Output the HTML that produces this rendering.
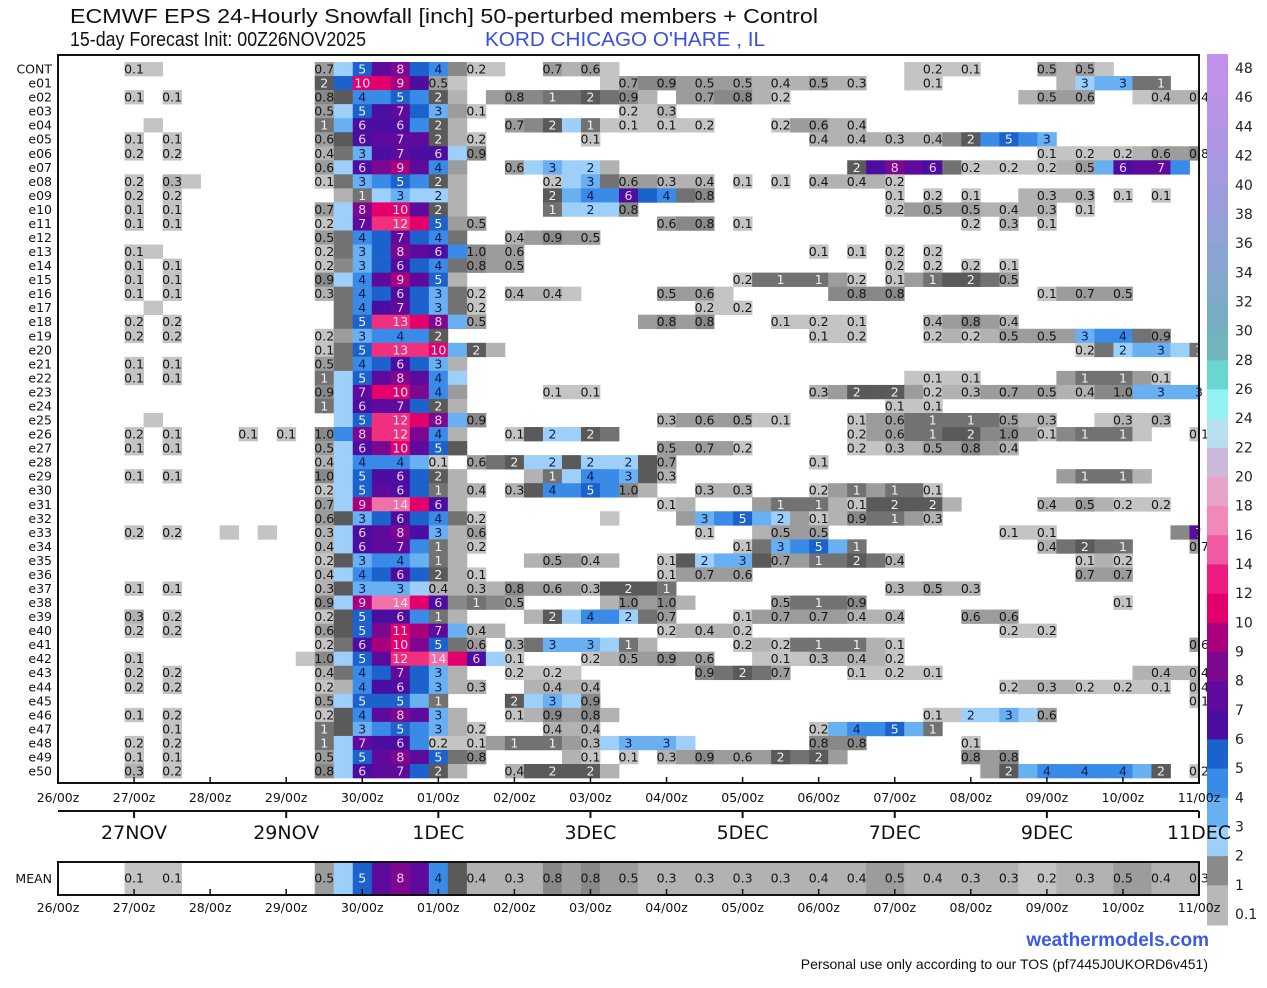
<!DOCTYPE html>
<html><head><meta charset="utf-8">
<style>
html,body{margin:0;padding:0;background:#fff;}
svg{display:block;font-family:"DejaVu Sans","Liberation Sans",sans-serif;}
</style></head>
<body>
<svg id="chart" width="1267" height="988" viewBox="0 0 1267 988" xmlns="http://www.w3.org/2000/svg">
<text x="70" y="23" font-family="Liberation Sans, sans-serif" font-size="20" textLength="748" lengthAdjust="spacingAndGlyphs" fill="#111">ECMWF EPS 24-Hourly Snowfall [inch]  50-perturbed members + Control</text>
<text x="70" y="46" font-family="Liberation Sans, sans-serif" font-size="20" textLength="296" lengthAdjust="spacingAndGlyphs" fill="#111">15-day Forecast Init: 00Z26NOV2025</text>
<text x="485" y="46" font-family="Liberation Sans, sans-serif" font-size="20" textLength="280" lengthAdjust="spacingAndGlyphs" fill="#3a4fe0">KORD CHICAGO O'HARE , IL</text>
<g id="cells"></g>
<g id="mean"></g>
<g id="cbar"></g>
<g id="axes"></g>
<text x="1209" y="946" text-anchor="end" font-family="Liberation Sans, sans-serif" font-size="19" font-weight="bold" fill="#3a5ae8">weathermodels.com</text>
<text x="1208" y="969" text-anchor="end" font-family="Liberation Sans, sans-serif" font-size="14" fill="#111">Personal use only according to our TOS (pf7445J0UKORD6v451)</text>
</svg>
<script>
const rowNames = ['CONT','e01','e02','e03','e04','e05','e06','e07','e08','e09','e10','e11','e12','e13','e14','e15','e16','e17','e18','e19','e20','e21','e22','e23','e24','e25','e26','e27','e28','e29','e30','e31','e32','e33','e34','e35','e36','e37','e38','e39','e40','e41','e42','e43','e44','e45','e46','e47','e48','e49','e50'];
const memberValues = [
"4:0.1 5:0.1 14:0.7 15:2.5 16:5 17:7 18:8 19:5 20:4 21:0.8 22:0.2 23:0.2 26:0.7 27:0.3 28:0.6 29:0.2 45:0.2 46:0.2 47:0.1 48:0.1 52:0.5 53:0.4 54:0.5 55:0.2",
"14:1.8 15:5 16:10 17:10 18:9 19:6 20:0.5 21:0.2 29:0.2 30:0.7 31:0.8 32:0.9 33:0.6 34:0.5 35:0.5 36:0.5 37:0.4 38:0.4 39:0.4 40:0.5 41:0.3 42:0.3 45:0.1 46:0.1 53:0.3 54:2.5 55:3 56:3 57:1.2 58:1.2",
"4:0.1 6:0.1 14:0.8 15:1.5 16:4 17:4.5 18:5 19:4 20:1.8 21:0.3 23:0.5 24:0.8 25:0.8 26:1.2 27:1.2 28:1.8 29:1.2 30:0.9 31:0.3 33:0.5 34:0.7 35:0.8 36:0.8 37:0.3 38:0.2 51:0.3 52:0.5 53:0.6 54:0.6 57:0.2 58:0.4 59:0.3 60:0.4",
"14:0.5 15:2.5 16:5 17:6.5 18:7 19:5 20:3 21:0.5 22:0.1 30:0.2 31:0.2 32:0.3",
"5:0.1 14:1.2 15:3 16:6 17:6.5 18:6 19:4.5 20:1.8 21:0.3 24:0.7 25:0.8 26:1.8 27:2.5 28:1.2 29:0.2 30:0.1 31:0.1 32:0.1 33:0.2 34:0.2 38:0.2 39:0.6 40:0.6 41:0.4 42:0.4",
"4:0.1 6:0.1 14:0.6 15:1.5 16:6 17:7 18:7 19:7 20:1.8 21:0.3 22:0.2 28:0.1 40:0.4 41:0.4 42:0.4 43:0.3 44:0.3 45:0.4 46:0.4 47:0.8 48:1.8 49:4 50:5 51:4 52:3",
"4:0.2 6:0.2 14:0.4 15:1 16:3 17:6 18:7 19:6 20:6 21:2.5 22:0.9 52:0.1 53:0.2 54:0.2 55:0.2 56:0.2 57:0.4 58:0.6 59:0.7 60:0.8",
"14:0.6 15:2.5 16:6 17:8 18:9 19:7 20:4 21:0.5 24:0.6 25:2.5 26:3 27:2.5 28:2 29:0.3 42:1.8 43:6 44:8 45:7 46:6 47:1.2 48:0.2 49:0.2 50:0.2 51:0.2 52:0.2 53:0.4 54:0.5 55:3 56:6 57:7 58:7 59:4",
"4:0.2 6:0.3 7:0.2 14:0.1 15:1.2 16:3 17:4 18:5 19:4 20:1.8 21:0.3 26:0.2 27:2.5 28:3 29:1.2 30:0.6 31:0.5 32:0.3 33:0.4 34:0.4 36:0.1 38:0.1 40:0.4 41:0.4 42:0.4 43:0.3 44:0.2",
"4:0.2 6:0.2 15:0.3 16:1.2 17:2.5 18:3 19:2.5 20:2 21:0.3 26:1.8 27:3 28:4 29:4.5 30:6 31:5 32:4 33:1.2 34:0.8 44:0.1 46:0.2 48:0.1 51:0.3 52:0.3 53:0.3 54:0.3 56:0.1 58:0.1",
"4:0.1 6:0.1 14:0.7 15:2.5 16:8 17:10 18:10 19:7 20:1.8 21:0.3 26:1.2 27:2.5 28:2 29:2.5 30:0.8 44:0.2 45:0.5 46:0.5 47:0.6 48:0.5 49:0.4 50:0.4 51:0.3 52:0.3 54:0.1",
"4:0.1 6:0.1 14:0.2 15:2 16:7 17:12 18:12 19:10 20:5 21:0.5 22:0.5 32:0.6 33:0.8 34:0.8 36:0.1 48:0.2 50:0.3 52:0.1",
"14:0.5 15:1.2 16:4 17:5 18:7 19:5 20:4 21:1.2 24:0.4 25:0.5 26:0.9 27:0.6 28:0.5",
"4:0.1 5:0.1 14:0.2 15:1.2 16:3 17:5 18:8 19:7 20:6 21:4 22:0.98 23:0.6 24:0.6 40:0.1 42:0.1 44:0.2 46:0.2",
"4:0.1 6:0.1 14:0.2 15:0.8 16:3 17:5 18:6 19:5 20:4 21:1.2 22:0.8 23:0.6 24:0.5 44:0.2 46:0.2 48:0.2 50:0.1",
"4:0.1 6:0.1 14:0.9 15:2 16:4 17:7 18:9 19:7 20:5 21:0.3 36:0.2 37:1.2 38:1.2 39:1.2 40:1.2 41:0.6 42:0.2 44:0.1 45:0.6 46:1.2 47:1.5 48:1.8 49:1.2 50:0.5",
"4:0.1 6:0.1 14:0.3 15:1.2 16:4 17:5 18:6 19:5 20:3 21:1.2 22:0.2 24:0.4 25:0.4 26:0.4 27:0.2 32:0.5 33:0.6 34:0.6 35:0.2 41:0.8 42:0.8 43:0.8 44:0.8 52:0.1 53:0.7 54:0.7 55:0.6 56:0.5",
"5:0.1 15:1.2 16:4 17:6 18:7 19:5 20:3 21:1.2 22:0.2 34:0.2 35:0.2 36:0.2",
"4:0.2 6:0.2 15:1.2 16:5 17:12 18:13 19:10 20:8 21:3 22:0.5 31:0.5 32:0.8 33:0.6 34:0.8 38:0.1 39:0.2 40:0.2 41:0.2 42:0.1 46:0.4 47:0.6 48:0.8 49:0.6 50:0.4",
"4:0.2 6:0.2 14:0.2 15:0.5 16:3 17:4 18:4 19:4 20:1.8 40:0.1 41:0.2 42:0.2 46:0.2 47:0.3 48:0.2 49:0.4 50:0.5 51:0.5 52:0.5 53:0.5 54:3 55:4 56:4 57:1.2 58:0.9",
"14:0.1 15:1.2 16:5 17:12 18:13 19:12 20:10 21:3 22:1.8 23:0.3 54:0.2 55:1.2 56:2 57:3 58:3 59:2.5 60:1",
"4:0.1 6:0.1 14:0.5 15:1.2 16:4 17:5 18:6 19:5 20:3 21:0.3",
"4:0.1 6:0.1 14:1.2 15:2.5 16:5 17:7 18:8 19:7 20:4 21:2.5 45:0.2 46:0.1 47:0.2 48:0.1 53:0.6 54:1.2 55:1.2 56:1.2 57:0.6 58:0.1",
"14:0.9 15:2.5 16:7 17:10 18:10 19:8 20:4 21:0.5 26:0.1 27:0.2 28:0.1 40:0.3 41:0.6 42:1.8 43:1.8 44:1.8 45:0.6 46:0.2 47:0.3 48:0.3 49:0.6 50:0.7 51:0.6 52:0.5 53:0.3 54:0.4 55:0.8 56:0.98 57:3 58:3 59:3 60:3",
"14:1.2 15:2.5 16:6 17:7 18:7 19:5 20:1.8 21:0.3 44:0.1 45:0.2 46:0.1",
"5:0.1 15:2.5 16:5 17:12 18:12 19:10 20:8 21:3 22:0.9 32:0.3 33:0.6 34:0.6 35:0.5 36:0.5 37:0.2 38:0.1 42:0.1 43:0.6 44:0.6 45:1.2 46:1.2 47:1.2 48:1.2 49:1.2 50:0.5 51:0.3 52:0.3 55:0.2 56:0.3 57:0.2 58:0.3",
"4:0.2 6:0.1 10:0.1 12:0.1 14:0.98 15:4 16:8 17:12 18:12 19:8 20:4 21:0.3 24:0.1 25:1.5 26:2 27:2.5 28:1.8 29:1.2 42:0.2 43:0.6 44:0.6 45:1.2 46:1.2 47:1.5 48:1.8 49:0.8 50:0.98 51:0.6 52:0.1 53:0.8 54:1.2 55:1.2 56:1.2 57:0.2 60:0.1",
"4:0.1 6:0.1 14:0.5 15:2 16:6 17:8 18:10 19:7 20:5 21:1.5 32:0.5 33:0.6 34:0.7 35:0.5 36:0.2 42:0.2 43:0.2 44:0.3 45:0.4 46:0.5 47:0.6 48:0.8 49:0.6 50:0.4",
"14:0.4 15:2.5 16:4 17:4 18:4 19:3 20:0.1 22:0.6 23:1.2 24:1.8 25:2.5 26:2 27:1.8 28:2 29:2.5 30:2 31:1.8 32:0.7 40:0.1",
"4:0.1 6:0.1 14:0.98 15:2.5 16:5 17:6 18:6 19:5 20:1.8 21:0.3 25:0.3 26:1.2 27:2.5 28:4 29:4 30:3 31:1.5 32:0.3 53:0.6 54:1.2 55:1.2 56:1.2 57:0.3",
"14:0.2 15:2.5 16:5 17:7 18:6 19:5 20:1.2 21:0.3 22:0.4 24:0.3 25:1.5 26:4 27:4.5 28:5 29:4 30:0.98 31:0.4 34:0.3 35:0.3 36:0.3 40:0.2 41:0.5 42:1.2 43:0.5 44:1.2 45:1.2 46:0.1",
"14:0.7 15:2.5 16:9 17:14 18:14 19:10 20:6 21:0.3 32:0.1 33:0.3 37:0.6 38:1.2 39:1.2 40:1.2 41:0.3 42:0.1 43:1.5 44:1.8 45:1.8 46:1.8 47:0.3 52:0.4 53:0.3 54:0.5 55:0.3 56:0.2 57:0.2 58:0.2",
"14:0.6 15:1.5 16:3 17:5 18:6 19:5 20:4 21:1.2 22:0.2 29:0.2 33:0.6 34:3 35:4 36:5 37:3 38:2 39:0.6 40:0.1 41:0.3 42:0.9 43:1.2 44:1.2 45:0.6 46:0.3",
"4:0.2 6:0.2 9:0.1 11:0.1 14:0.3 15:2.5 16:6 17:7 18:8 19:6 20:3 21:0.4 22:0.6 34:0.1 37:0.3 38:0.5 39:0.5 40:0.5 50:0.1 51:0.2 52:0.1 59:0.9 60:7",
"14:0.4 15:2.5 16:6 17:7 18:7 19:4 20:1.2 21:0.3 22:0.2 36:0.1 37:1.2 38:3 39:4 40:5 41:3 42:1.2 52:0.4 53:1.2 54:1.8 55:1.2 56:1.2 60:0.7",
"14:0.2 15:1.5 16:3 17:4 18:4 19:3 20:1.2 21:0.3 25:0.3 26:0.5 27:0.5 28:0.4 29:0.3 32:0.1 33:1.5 34:2 35:3 36:3 37:1.5 38:0.7 39:0.5 40:1.2 41:1.2 42:1.8 43:1.2 44:0.4 54:0.1 55:0.3 56:0.2",
"14:0.4 15:2.5 16:4 17:5 18:6 19:5 20:1.8 21:0.3 22:0.1 32:0.1 33:0.5 34:0.7 35:0.6 36:0.6 54:0.7 55:0.6 56:0.7",
"4:0.1 6:0.1 14:0.3 15:1.5 16:3 17:3 18:3 19:2 20:0.4 21:0.3 22:0.3 23:0.3 24:0.8 25:0.6 26:0.6 27:0.5 28:0.3 29:1.5 30:1.8 31:1.5 32:1.2 44:0.3 45:0.3 46:0.5 47:0.3 48:0.3",
"14:0.9 15:2.5 16:9 17:14 18:14 19:10 20:6 21:0.8 22:1.2 23:0.8 24:0.5 29:0.3 30:0.98 31:0.5 32:0.98 33:0.3 38:0.5 39:1.2 40:1.2 41:1.2 42:0.9 56:0.1",
"4:0.3 6:0.2 14:0.2 15:1.5 16:5 17:6 18:6 19:4 20:1.2 21:0.3 25:0.3 26:1.8 27:2.5 28:4 29:4 30:2 31:1.2 32:0.7 36:0.1 37:0.5 38:0.7 39:0.7 40:0.7 41:0.5 42:0.4 43:0.4 44:0.4 48:0.6 49:0.6 50:0.6",
"4:0.2 6:0.2 14:0.6 15:1.5 16:5 17:8 18:11 19:9 20:7 21:3 22:0.4 23:0.3 32:0.2 33:0.3 34:0.4 35:0.3 36:0.2 50:0.2 51:0.2 52:0.2",
"14:0.2 15:1 16:6 17:9 18:10 19:8 20:5 21:1.2 22:0.6 24:0.3 25:1.2 26:3 27:3 28:3 29:2.5 30:1.2 31:0.3 36:0.2 37:0.3 38:0.2 39:1.2 40:1.2 41:1.2 42:1.2 43:0.3 44:0.1 60:0.6",
"4:0.1 13:0.2 14:0.98 15:2.5 16:5 17:7 18:12 19:13 20:14 21:10 22:6 23:2.5 24:0.1 28:0.2 29:0.3 30:0.5 31:0.6 32:0.9 33:0.7 34:0.6 37:0.2 38:0.1 39:0.2 40:0.3 41:0.4 42:0.4 43:0.3 44:0.2",
"4:0.2 6:0.2 14:0.4 15:1.2 16:4 17:5 18:7 19:5 20:3 21:0.3 24:0.2 25:0.2 26:0.2 27:0.2 34:0.9 35:1.2 36:1.8 37:1.2 38:0.7 42:0.1 43:0.2 44:0.2 45:0.2 46:0.1 57:0.3 58:0.4 59:0.4 60:0.4",
"4:0.2 6:0.2 14:0.2 15:0.3 16:4 17:6 18:6 19:5 20:3 21:0.3 22:0.3 25:0.3 26:0.4 27:0.4 28:0.4 50:0.2 51:0.3 52:0.3 53:0.3 54:0.2 55:0.2 56:0.2 57:0.2 58:0.1 60:0.4",
"14:0.5 15:2.5 16:5 17:5 18:5 19:3 20:1.2 24:1.8 25:2.5 26:3 27:2.5 28:0.9 60:0.1",
"4:0.1 6:0.2 14:0.2 15:1.5 16:4 17:7 18:8 19:7 20:3 21:0.3 24:0.1 25:0.3 26:0.9 27:0.5 28:0.8 29:0.3 46:0.1 47:0.2 48:2 49:2.5 50:3 51:2.5 52:0.6",
"6:0.1 14:1.2 15:1.5 16:3 17:4 18:5 19:4 20:3 21:0.3 22:0.2 26:0.4 27:0.3 28:0.4 40:0.2 41:3 42:4 43:4 44:5 45:3 46:1.2",
"4:0.2 6:0.2 14:1.2 15:2.5 16:7 17:6 18:6 19:4 20:0.2 21:0.2 22:0.1 23:0.5 24:1.2 25:1.2 26:1.2 27:0.5 28:0.3 29:2.5 30:3 31:3 32:3 33:2.5 40:0.8 41:0.8 42:0.8 48:0.1",
"4:0.1 6:0.1 14:0.5 15:2.5 16:5 17:7 18:8 19:7 20:5 21:1.2 22:0.8 27:0.3 28:0.1 30:0.1 32:0.3 33:0.5 34:0.9 35:0.7 36:0.6 37:0.6 38:1.8 39:1.2 40:1.8 41:0.5 48:0.8 49:0.6 50:0.8",
"4:0.3 6:0.2 14:0.8 15:2.5 16:6 17:7 18:7 19:5 20:1.8 21:0.3 24:0.4 25:1.5 26:1.8 27:1.5 28:1.8 29:0.3 49:0.5 50:1.8 51:3 52:4 53:4 54:4 55:4 56:4 57:3 58:1.8 60:0.2"
];
const meanValues = "4:0.1 5:0.1 6:0.1 14:0.5 15:2.5 16:5 17:7 18:8 19:7 20:4 21:1.5 22:0.4 23:0.3 24:0.3 25:0.4 26:0.8 27:0.7 28:0.8 29:0.6 30:0.5 31:0.4 32:0.3 33:0.3 34:0.3 35:0.3 36:0.3 37:0.3 38:0.3 39:0.3 40:0.4 41:0.4 42:0.4 43:0.5 44:0.5 45:0.4 46:0.4 47:0.3 48:0.3 49:0.3 50:0.3 51:0.2 52:0.2 53:0.3 54:0.3 55:0.4 56:0.5 57:0.5 58:0.4 59:0.3 60:0.3";
const dayTicks = ['26/00z','27/00z','28/00z','29/00z','30/00z','01/00z','02/00z','03/00z','04/00z','05/00z','06/00z','07/00z','08/00z','09/00z','10/00z','11/00z'];
const dateLabels = ['27NOV','29NOV','1DEC','3DEC','5DEC','7DEC','9DEC','11DEC'];
const dateLabelDays = [1,3,5,7,9,11,13,15];
const cbLabels = ['0.1','1','2','3','4','5','6','7','8','9','10','12','14','16','18','20','22','24','26','28','30','32','34','36','38','40','42','44','46','48'];
const cbColors = ['#b8b8b8','#8a8a8a','#9ecff8','#68b0f2','#3a8ae8','#1c62cc','#4c0ea0','#5e0a9c','#7c0890','#a8007c','#e4006c','#ec1c80','#f05aa0','#f088b8','#e8a4c8','#ccb8d8','#b8e0ec','#92f2f2','#6ad6d0','#70b4bc','#78aec4','#82a8cc','#8aa4d2','#94a0d8','#9c9cdc','#a49ae0','#ae96e4','#b694e8','#c090ea'];

const NS='http://www.w3.org/2000/svg';
const X0=58,X1=1199,NK=60;
function xScale(k){return X0+k*(X1-X0)/NK;}
const CW=(X1-X0)/NK;
const RY0=62,RH=14.04;
function yScale(r){return RY0+r*RH;}
function cellColor(v){
  if(v<0.25)return '#c4c4c4';
  if(v<0.5)return '#b2b2b2';
  if(v<0.75)return '#9c9c9c';
  if(v<1)return '#888888';
  if(v<1.5)return '#727272';
  if(v<2)return '#5a5a5a';
  if(v<3)return '#9ecff8';
  if(v<4)return '#68b0f2';
  if(v<5)return '#3a8ae8';
  if(v<6)return '#1c62cc';
  if(v<7)return '#4c0ea0';
  if(v<8)return '#5e0a9c';
  if(v<9)return '#7c0890';
  if(v<10)return '#a8007c';
  if(v<12)return '#e4006c';
  if(v<14)return '#f0307f';
  return '#f070a8';
}
function textColor(v){
  if(v<1)return '#151515';
  if(v<2)return '#f0f0f0';
  if(v<5)return '#0c1c50';
  if(v<6)return '#e8f0ff';
  if(v<10)return '#f0c8f0';
  return '#ffe0f0';
}
function fmt(v){return v<1?v.toFixed(1):String(Math.round(v));}
function parse(s){return s.trim().split(/\s+/).map(p=>{const a=p.split(':');return [+a[0],+a[1]];});}
function mk(tag,attrs,parent){const e=document.createElementNS(NS,tag);for(const k in attrs)e.setAttribute(k,attrs[k]);parent.appendChild(e);return e;}

const cells=document.getElementById('cells');
const axes=document.getElementById('axes');
function drawCells(list,yTop,h,parent,rowName){
  list.forEach(([k,v])=>{
    let x=xScale(k)-CW/2, w=CW;
    if(x<X0){w-=X0-x;x=X0;}
    if(x+w>X1){w=X1-x;}
    const r=mk('rect',{x:x.toFixed(2),y:yTop.toFixed(2),width:(w+0.4).toFixed(2),height:(h+0.3).toFixed(2),fill:cellColor(v)},parent);
    
    
  });
  list.forEach(([k,v])=>{
    if(k%2!==0)return;
    let cx=xScale(k);
    const t=mk('text',{x:cx.toFixed(2),y:(yTop+h/2+4.5).toFixed(2),'text-anchor':'middle','font-size':'12.5',fill:textColor(v)},parent);
    
    
    t.textContent=fmt(v);
  });
}
memberValues.forEach((s,r)=>{
  const g=mk('g',{},cells);
  
  
  drawCells(parse(s),yScale(r),RH,g,rowNames[r]);
  const lab=mk('text',{x:52,y:(yScale(r)+RH/2+4.5).toFixed(2),'text-anchor':'end','font-size':'12.5',fill:'#111'},axes);
  
  
  lab.textContent=rowNames[r];
});
const fr=mk('rect',{x:X0,y:55,width:X1-X0,height:728,fill:'none',stroke:'#111','stroke-width':2},axes);


dayTicks.forEach((d,i)=>{
  const x=xScale(i*4);
  const tk=mk('line',{x1:x,x2:x,y1:783,y2:777,stroke:'#111','stroke-width':1.5},axes);
  
  
  const t=mk('text',{x:x,y:802,'text-anchor':'middle','font-size':'12.5',fill:'#111'},axes);
  
  
  t.textContent=d;
  const tk2=mk('line',{x1:x,x2:x,y1:895,y2:889,stroke:'#111','stroke-width':1.5},axes);
  
  
  const t2=mk('text',{x:x,y:912,'text-anchor':'middle','font-size':'12.5',fill:'#111'},axes);
  
  
  t2.textContent=d;
});
const dl=mk('line',{x1:X0,x2:X1,y1:811,y2:811,stroke:'#111','stroke-width':2},axes);


dateLabels.forEach((d,i)=>{
  const x=xScale(dateLabelDays[i]*4);
  const tk=mk('line',{x1:x,x2:x,y1:811,y2:818,stroke:'#111','stroke-width':2},axes);
  
  
  const t=mk('text',{x:x,y:839,'text-anchor':'middle','font-size':'19',fill:'#111'},axes);
  
  
  t.textContent=d;
});
const meanG=document.getElementById('mean');


drawCells(parse(meanValues),862,32,meanG,'MEAN');
const mf=mk('rect',{x:X0,y:862,width:X1-X0,height:33,fill:'none',stroke:'#111','stroke-width':2},axes);


const ml=mk('text',{x:52,y:883,'text-anchor':'end','font-size':'12.5',fill:'#111'},axes);


ml.textContent='MEAN';
const cb=document.getElementById('cbar');


const CBY0=914,CBS=29.17;
cbColors.forEach((c,i)=>{
  const yb=CBY0-i*CBS;
  const ext=(i===0)?11:0, top=(i===cbColors.length-1)?14:0;
  const r=mk('rect',{x:1207,y:(yb-CBS-top).toFixed(2),width:21,height:(CBS+ext+top+0.5).toFixed(2),fill:c},cb);
  
  
});
cbLabels.forEach((l,i)=>{
  const t=mk('text',{x:1235,y:(CBY0-i*CBS+5).toFixed(2),'font-size':'14',fill:'#222'},cb);
  
  
  t.textContent=l;
});
</script>
</body></html>
